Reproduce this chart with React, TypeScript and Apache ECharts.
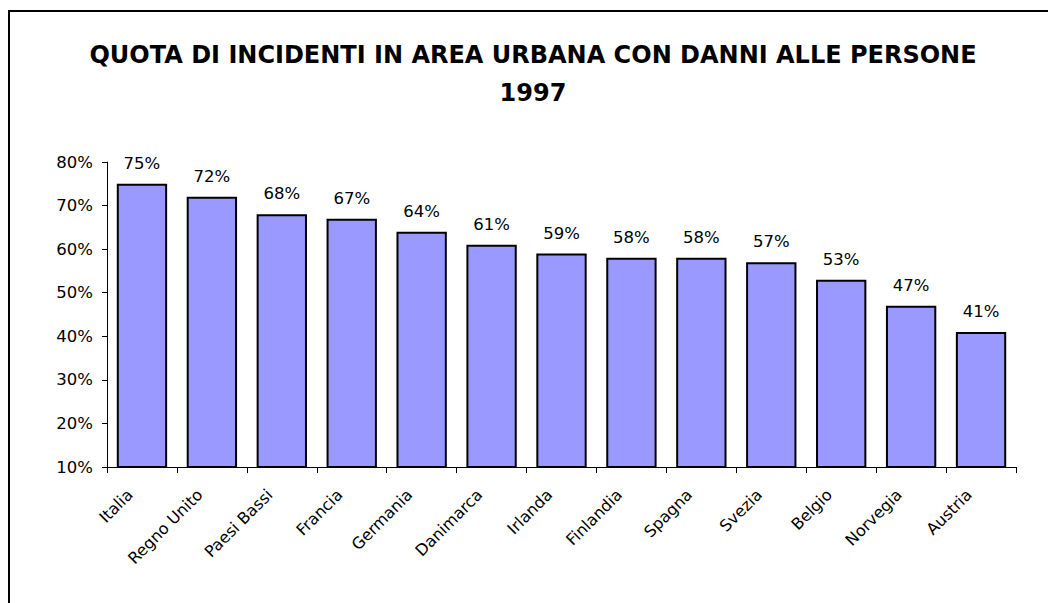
import React, { useEffect, useRef } from "react";
import * as echarts from "echarts";

const categories = ["Italia", "Regno Unito", "Paesi Bassi", "Francia", "Germania", "Danimarca", "Irlanda", "Finlandia", "Spagna", "Svezia", "Belgio", "Norvegia", "Austria"];
const values = [75, 72, 68, 67, 64, 61, 59, 58, 58, 57, 53, 47, 41];
const titleLines = ["QUOTA DI INCIDENTI IN AREA URBANA CON DANNI ALLE PERSONE", "1997"];

const FONT = "DejaVu Sans";

export default function App() {
  const ref = useRef<HTMLDivElement>(null);
  useEffect(() => {
    const chart = echarts.init(ref.current!, null, { renderer: "svg" });
    chart.setOption({
      animation: false,
      backgroundColor: "#ffffff",
      textStyle: { fontFamily: FONT },
      title: {
        text: titleLines.join("\n"),
        left: 528,
        top: 31,
        textAlign: "center",
        textStyle: { fontFamily: FONT, fontWeight: "bold", fontSize: 24, color: "#000", lineHeight: 38 },
      },
      graphic: [
        {
          type: "polyline",
          shape: { points: [[9, 700], [9, 11], [1100, 11]] },
          style: { stroke: "#000", lineWidth: 2, fill: null },
        },
      ],
      grid: { left: 107, right: 32, top: 162, bottom: 136, containLabel: false },
      xAxis: {
        type: "category",
        data: categories,
        boundaryGap: true,
        axisLine: { lineStyle: { color: "#000", width: 1 } },
        axisTick: { show: true, alignWithLabel: false, length: 6, lineStyle: { color: "#000" } },
        axisLabel: { rotate: 45, color: "#000", fontSize: 16, fontFamily: FONT, margin: 13, interval: 0, padding: [0, 17, 0, 0] },
      },
      yAxis: {
        type: "value",
        min: 10,
        max: 80,
        interval: 10,
        axisLine: { show: true, lineStyle: { color: "#000", width: 1 } },
        axisTick: { show: true, length: 5, lineStyle: { color: "#000" } },
        splitLine: { show: false },
        axisLabel: { formatter: "{value}%", color: "#000", fontSize: 16.5, fontFamily: FONT, margin: 14 },
      },
      series: [
        {
          type: "bar",
          data: values,
          barWidth: "72%",
          itemStyle: { color: "#9999FF", borderColor: "#000", borderWidth: 2 },
          label: { show: true, position: "top", distance: 12, formatter: "{c}%", color: "#000", fontSize: 16.5, fontFamily: FONT },
        },
      ],
    });
    return () => chart.dispose();
  }, []);
  return <div ref={ref} style={{ position: "absolute", left: 0, top: 0, width: 1048, height: 603 }} />;
}
